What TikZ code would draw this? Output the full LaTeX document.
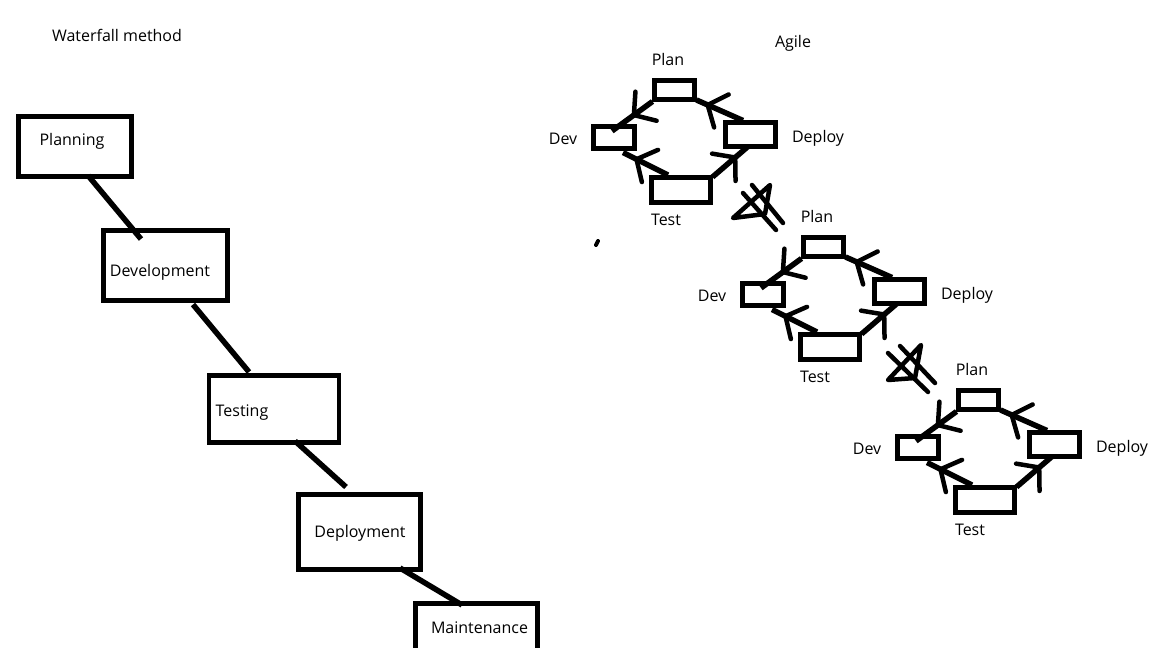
\documentclass[tikz,border=0pt]{standalone}
\usepackage{fontspec}
\setmainfont{Open Sans}
\usetikzlibrary{calc,decorations.markings}
\tikzset{
  box/.style={draw, line width=4.5pt, line join=miter, inner sep=0pt, outer sep=0pt},
  link/.style={line width=5.5pt},
  lbl/.style={inner sep=0pt, anchor=base, font=\fontsize{16}{18}\selectfont},
  stroke/.style={line width=4.5pt, line cap=round, line join=round},
  midarrow/.style={postaction={decorate}, decoration={markings,
    mark=at position #1 with {\draw[line width=4.5pt, line cap=round, line join=round]
      (-15,18) -- (0,0) -- (-15,-18);}}},
}
\begin{document}
\begin{tikzpicture}[x=1pt, y=-1pt]
\useasboundingbox (0,0) rectangle (1152,648);
\fill[white] (0,0) rectangle (1152,648);
\clip (0,0) rectangle (1152,648);

% ---------- Waterfall ----------
\node[lbl] (wtitle) at (117,41) {Waterfall method};

\node[box, minimum width=113, minimum height=60] (planning) at (75,146.5) {};
\node[box, minimum width=124, minimum height=70] (development) at (165.5,265.5) {};
\node[box, minimum width=130, minimum height=67] (testing) at (274,409) {};
\node[box, minimum width=122, minimum height=75] (deployment) at (359.5,532) {};
\node[box, minimum width=122, minimum height=60] (maintenance) at (476.5,633.5) {};

\node[lbl] (tplanning) at (72,145) {Planning};
\node[lbl] (tdevelopment) at (160,276.7) {Development};
\node[lbl] (ttesting) at (242,416) {Testing};
\node[lbl] (tdeployment) at (360,537.5) {Deployment};
\node[lbl] (tmaintenance) at (479.5,633) {Maintenance};

\draw[link] ($(planning.south)+(13,-1)$) -- ($(development.north west)+(37.5,8.5)$);
\draw[link] ($(development.south)+(27.5,4)$) -- ($(testing.north)+(-25,-3.5)$);
\draw[link] ($(testing.south)+(21,-1.5)$) -- ($(deployment.north)+(-13.5,-7.5)$);
\draw[link] ($(deployment.south)+(40.5,-1.5)$) -- ($(maintenance.north)+(-14.5,1.5)$);

% ---------- Agile ----------
\node[lbl] (atitle) at (793,47.5) {Agile};

\foreach \k/\dx/\dy in {1/0/0, 2/149/157, 3/304/310} {
  \begin{scope}[shift={(\dx,\dy)}]
    \node[box, minimum width=40, minimum height=19] (plan\k) at (674.5,90) {};
    \node[box, minimum width=41, minimum height=22] (dev\k) at (614,137.5) {};
    \node[box, minimum width=50, minimum height=24] (deploy\k) at (750.5,134.5) {};
    \node[box, minimum width=59, minimum height=25] (test\k) at (681,190) {};

    \node[lbl] (tplan\k) at (668,65) {Plan};
    \node[lbl] (tdev\k) at (563,144) {Dev};
    \node[lbl] (tdeploy\k) at (818,142.7) {Deploy};
    \node[lbl] (ttest\k) at (666,225) {Test};

    \draw[link, midarrow=0.76] ($(deploy\k.north west)+(17.5,-2)$) -- ($(plan\k.south east)+(2,0.5)$);
    \draw[link, midarrow=0.46] ($(plan\k.south west)+(-2,2)$) -- ($(dev\k.north)+(-2,4.5)$);
    \draw[link, midarrow=0.70] ($(test\k.north west)+(16.5,-2.5)$) -- ($(dev\k.south)+(9,4)$);
    \draw[link, midarrow=0.64] ($(test\k.north east)+(2,-0.5)$) -- ($(deploy\k.south)+(-2.5,0)$);
  \end{scope}
}

% crossed marks between the cycles
\draw[stroke] (770,185) -- (733,218) -- (765,214) -- cycle;
\draw[stroke] (743,193) -- (776,230);
\draw[stroke] (752,185) -- (783,223);

\draw[stroke] (921,345) -- (888,380) -- (915,378) -- cycle;
\draw[stroke] (888,353) -- (928,392);
\draw[stroke] (900,346) -- (935,383);

% stray dot
\draw[stroke, line width=4pt] (596,245) -- (598,241);
\end{tikzpicture}
\end{document}
